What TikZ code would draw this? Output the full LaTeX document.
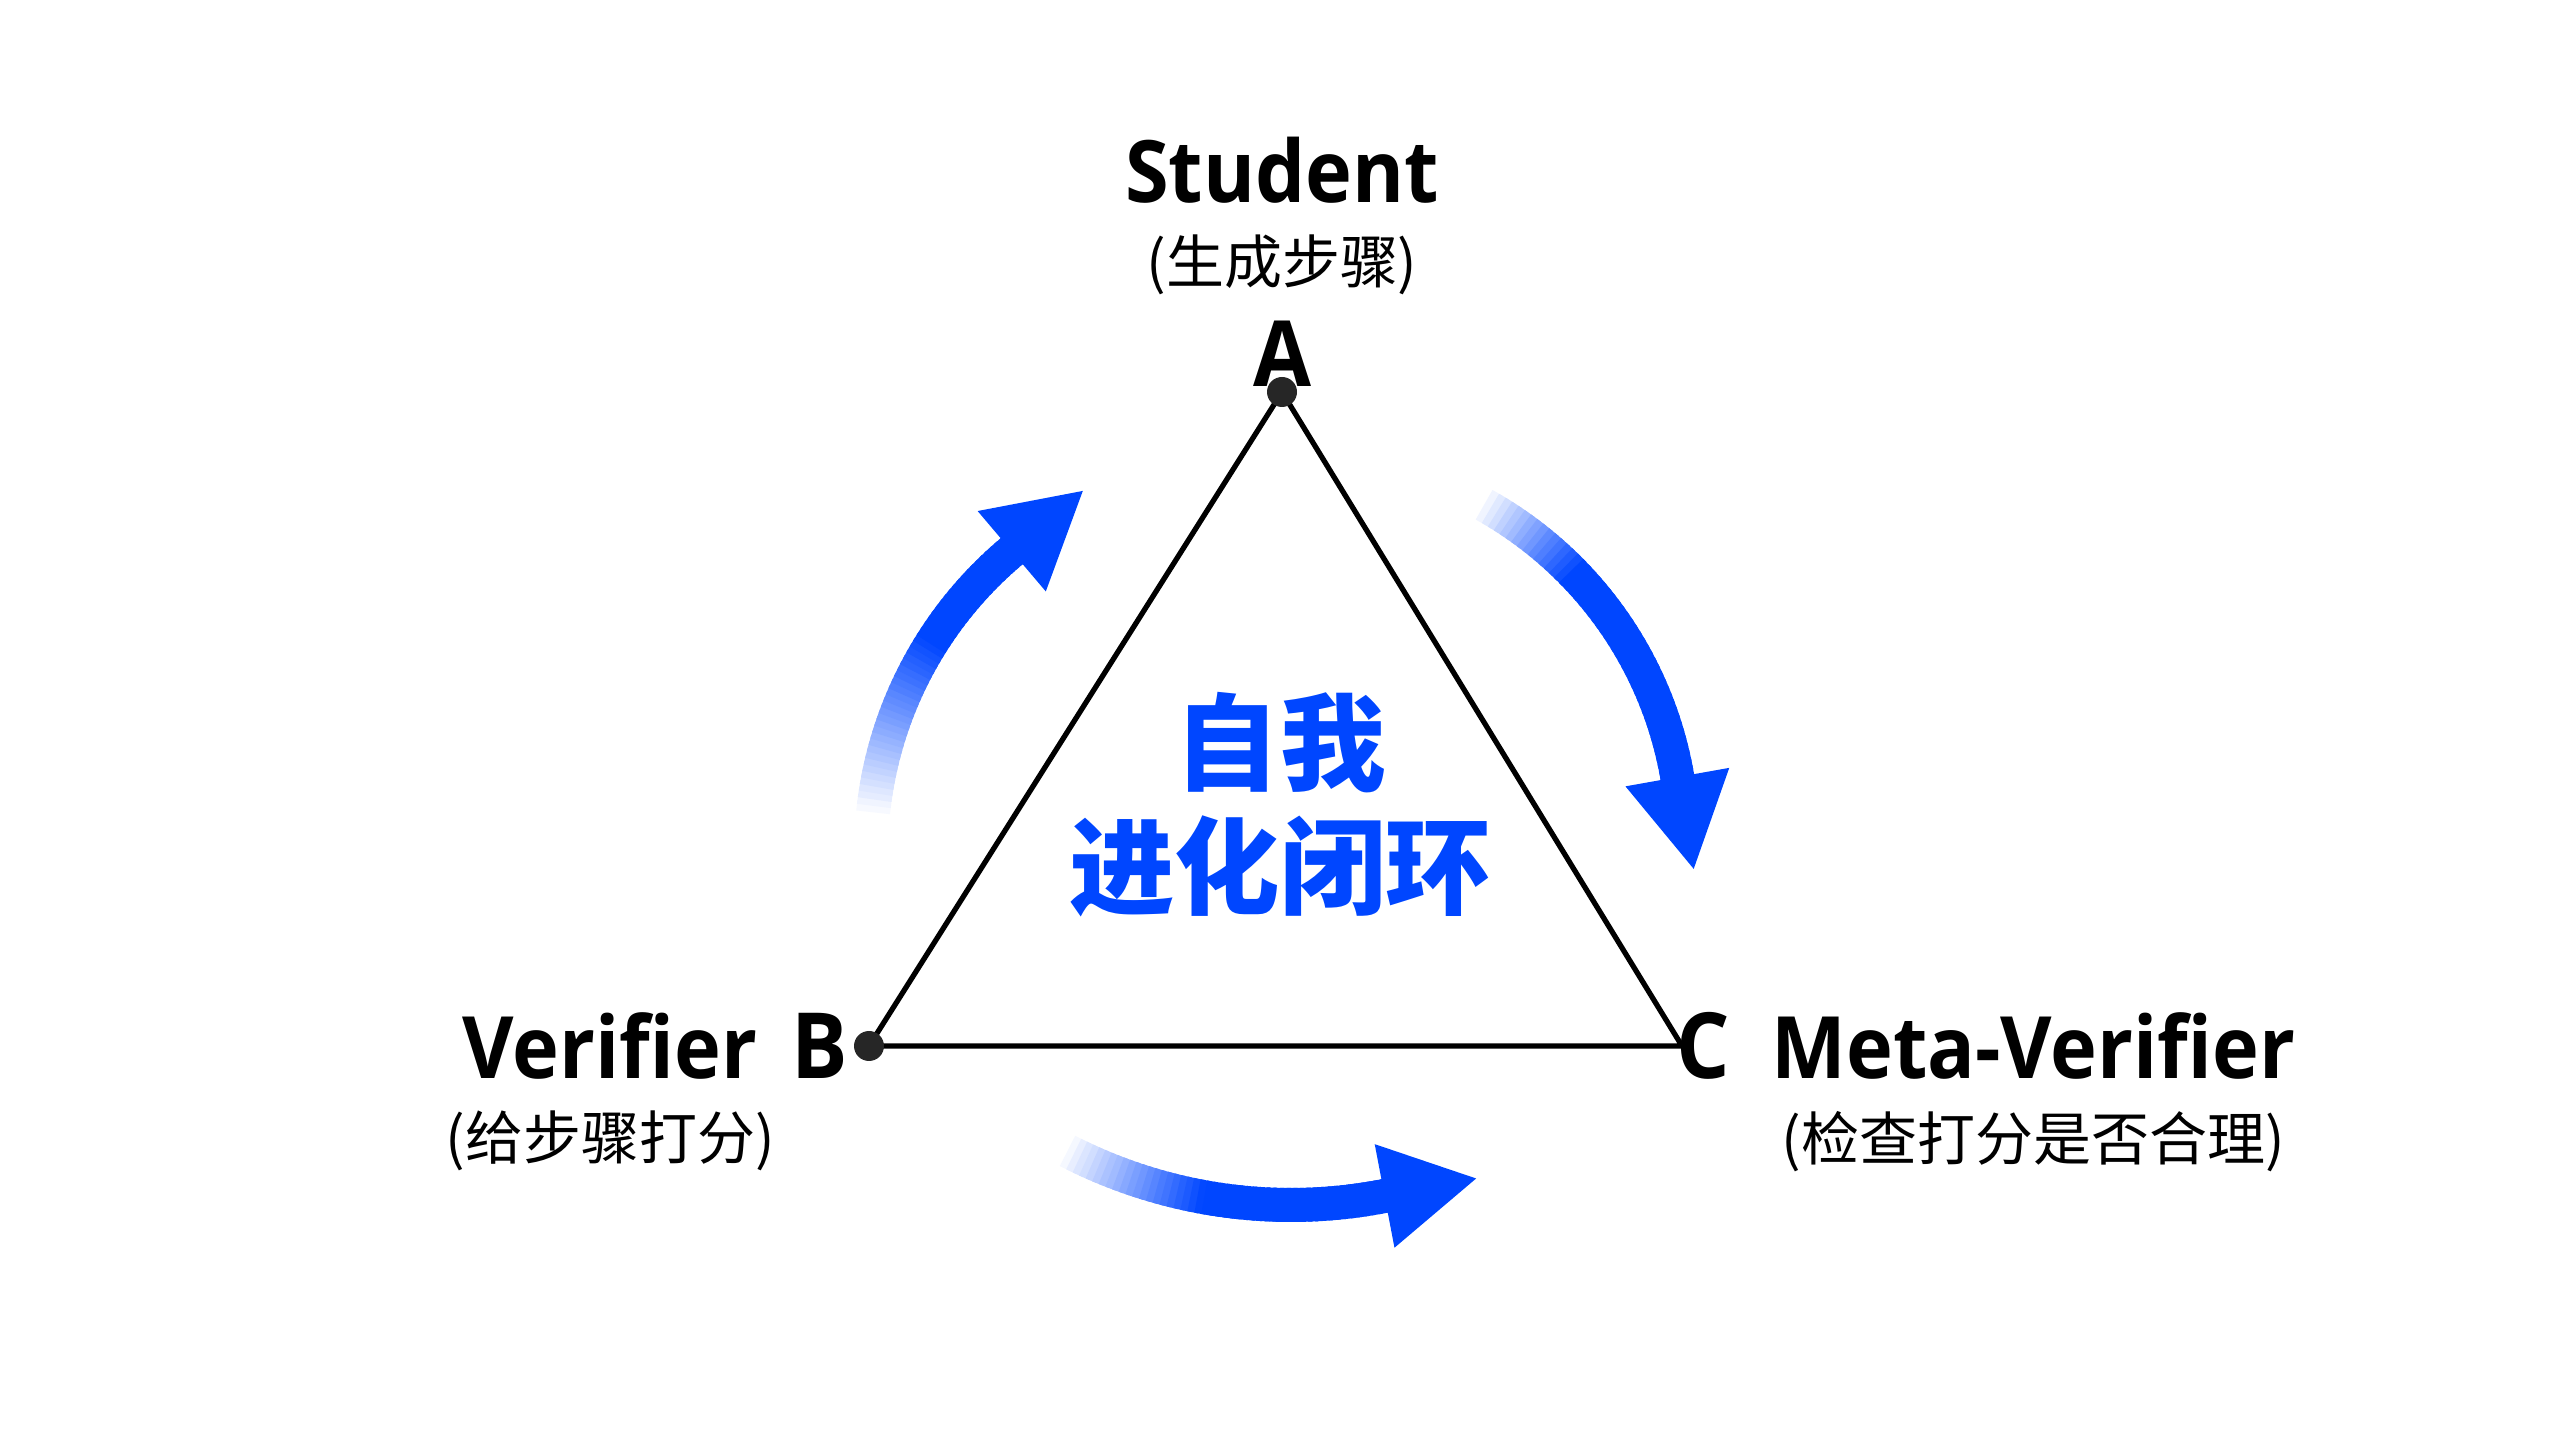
\documentclass[tikz,border=0pt]{standalone}
\usepackage{fontspec}
\usepackage{xcolor}
\usetikzlibrary{arrows.meta, positioning}
\setmainfont{Open Sans}[FakeStretch=0.92]
\newfontfamily\cjk{Noto Sans CJK SC}
\definecolor{loopblue}{RGB}{0,70,255}

\newcommand{\fadearc}[5]{%
  \foreach \i in {0,...,47} {
    \pgfmathsetmacro{\a}{#3+(#4-#3)*\i/48}
    \pgfmathsetmacro{\b}{#3+(#4-#3)*(\i+1.6)/48}
    \pgfmathtruncatemacro{\p}{min(100,100*\i/(48*#5))}
    \draw[flow, loopblue!\p!white] (#1) ++(\a:#2) arc[start angle=\a, end angle=\b, radius=#2];
  }
}

\begin{document}
\begin{tikzpicture}[
    role/.style={font=\bfseries\fontsize{24.5}{30}\selectfont, inner sep=0pt},
    vertex/.style={font=\bfseries\fontsize{26}{30}\selectfont, inner sep=0pt},
    note/.style={font=\cjk\fontsize{16.5}{20}\selectfont, inner sep=0pt},
    core/.style={font=\cjk\bfseries\fontsize{30}{35.3}\selectfont, text=loopblue, align=center, inner sep=0pt},
    edge/.style={line width=1.5pt, line join=round},
    dot/.style={circle, fill=black!85, inner sep=0pt, minimum size=0.3cm},
    flow/.style={line width=0.34cm},
    head/.style={-{Triangle[length=0.95cm, width=0.98cm]}, line width=0.34cm, loopblue}
]
\useasboundingbox (0,0) rectangle (25.6,14.4);

\coordinate (A) at (12.82,10.48);
\coordinate (B) at (8.69,3.94);
\coordinate (C) at (16.82,3.94);

\draw[edge] (A) -- (B) -- (C) -- cycle;
\node[dot] (dotA) at (A) {};
\node[dot] (dotB) at (B) {};

\node[vertex] (labA) [above=0.05cm of A] {A};
\node[note] (noteA) [above=0.25cm of labA] {(生成步骤)};
\node[role] (student) [above=0.3cm of noteA] {Student};

\node[vertex] (labB) [left=0.2cm of B] {B};
\node[role] (verifier) [base left=0.33cm of labB] {Verifier};
\node[note] (noteB) [below=0.3cm of verifier] {(给步骤打分)};

\node[vertex] (labC) [right=-0.06cm of C] {C};
\node[role] (meta) [base right=0.4cm of labC] {Meta-Verifier};
\node[note] (noteC) [below=0.3cm of meta] {(检查打分是否合理)};

\node[core] (core) at (12.80,6.35) {自我\\进化闭环};

\coordinate (upL) at (12.65,5.87);
\coordinate (upR) at (12.96,5.97);
\coordinate (low) at (12.91,7.24);

\fadearc{upL}{3.94}{175}{130.3}{0.6}
\draw[head] (upL) ++(130.3:3.94) -- ++(40.3:0.97);

\fadearc{upR}{3.87}{62}{10.1}{0.33}
\draw[head] (upR) ++(10.1:3.87) -- ++(-79.9:0.97);

\fadearc{low}{4.89}{242}{280.8}{0.44}
\draw[head] (low) ++(280.8:4.89) -- ++(10.8:0.97);
\end{tikzpicture}
\end{document}
